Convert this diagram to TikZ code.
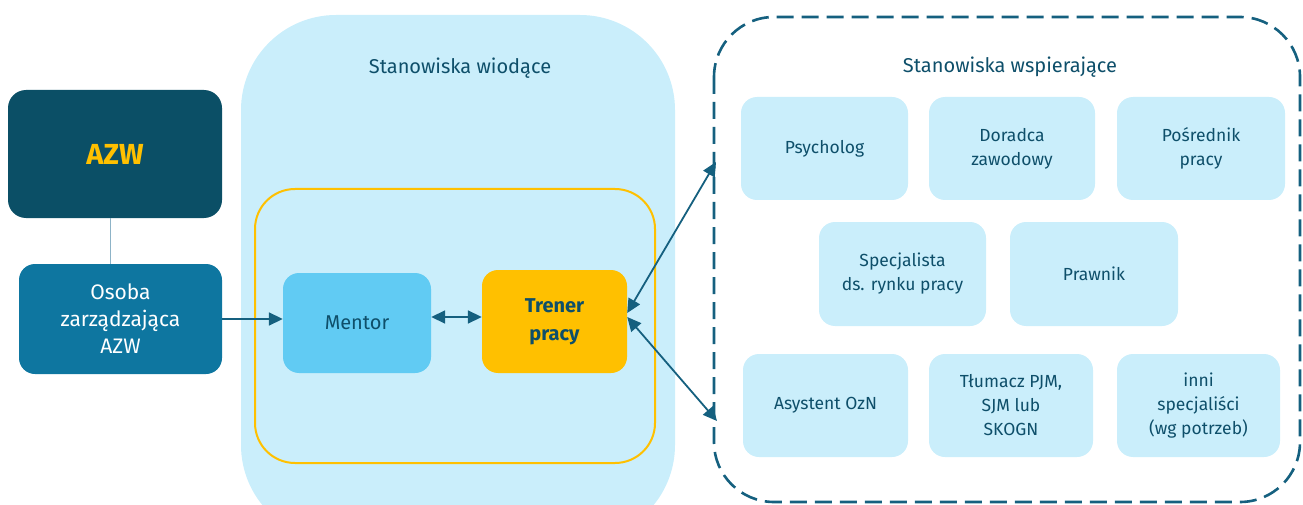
\documentclass[tikz,border=0pt]{standalone}
\usepackage{fontspec}
\setmainfont{Fira Sans}
\usetikzlibrary{arrows.meta}
\definecolor{ink}{HTML}{0E4F6A}
\definecolor{azwbg}{HTML}{0B4F66}
\definecolor{managerbg}{HTML}{0E76A0}
\definecolor{panelbg}{HTML}{CAEEFB}
\definecolor{mentorbg}{HTML}{61CBF3}
\definecolor{gold}{HTML}{FFC000}
\definecolor{arrowc}{HTML}{15607F}
\definecolor{linkc}{HTML}{8DB3C7}
\begin{document}
\begin{tikzpicture}[x=1pt,y=-1pt,
  box/.style={rounded corners=16pt, inner sep=0pt, align=center, text=ink},
  supbox/.style={box, fill=panelbg, font=\fontsize{17.5}{24}\selectfont},
  title/.style={text=ink, font=\fontsize{20}{24}\selectfont},
  conn/.style={draw=arrowc, line width=1.8pt},
  tip/.style={-{Triangle[length=14pt,width=13pt]}},
  tips/.style={{Triangle[length=14pt,width=13pt]}-{Triangle[length=14pt,width=13pt]}}]
\useasboundingbox (0,0) rectangle (1303,505);

% lead positions panel, its lower edge runs off the page
\begin{scope}
  \clip (0,0) rectangle (1303,505);
  \fill[panelbg, rounded corners=95pt] (241,15) rectangle (675,540);
\end{scope}
\node[title] (leadtitle) at (460,68) {Stanowiska wiodące};
\draw[gold, line width=2pt, rounded corners=40pt] (255,189) rectangle (655,463);

% supporting positions frame
\draw[arrowc, line width=2.6pt, dash pattern=on 17pt off 8pt, rounded corners=60pt]
  (714,17) rectangle (1300,502);
\node[title] (suptitle) at (1010,67) {Stanowiska wspierające};

% AZW and its manager
\node[box, fill=azwbg, rounded corners=18pt, minimum width=214pt, minimum height=128pt,
  text=gold, font=\fontsize{29}{33}\selectfont\bfseries] (azw) at (115,154) {AZW};
\node[box, fill=managerbg, minimum width=203pt, minimum height=110pt, text=white,
  font=\fontsize{21}{27}\selectfont] (manager) at (120.5,319) {Osoba\\zarządzająca\\AZW};
\draw[linkc, line width=1pt] (azw.south -| 110,0) -- (manager.north -| 110,0);

% lead positions
\node[box, fill=mentorbg, minimum width=148pt, minimum height=100pt,
  font=\fontsize{20}{24}\selectfont] (mentor) at (357,323) {Mentor};
\node[box, fill=gold, minimum width=145pt, minimum height=103pt,
  font=\fontsize{20}{28}\selectfont\bfseries] (trainer) at (554.5,321.5) {Trener\\pracy};

% supporting positions
\node[supbox, minimum width=167pt, minimum height=103pt] (psych) at (824.5,148.5) {Psycholog};
\node[supbox, minimum width=166pt, minimum height=103pt] (advisor) at (1012,148.5) {Doradca\\zawodowy};
\node[supbox, minimum width=168pt, minimum height=103pt] (broker) at (1201,148.5) {Pośrednik\\pracy};
\node[supbox, minimum width=167pt, minimum height=104pt] (market) at (902.5,274) {Specjalista\\ds. rynku pracy};
\node[supbox, minimum width=168pt, minimum height=104pt] (lawyer) at (1094,274) {Prawnik};
\node[supbox, minimum width=165pt, minimum height=103pt] (assist) at (825.5,405.5) {Asystent OzN};
\node[supbox, minimum width=164pt, minimum height=103pt] (interp) at (1011,405.5) {Tłumacz PJM,\\SJM lub\\SKOGN};
\node[supbox, minimum width=163pt, minimum height=103pt] (others) at (1198.5,405.5) {inni\\specjaliści\\(wg potrzeb)};

% connectors
\coordinate (supA) at (716,162);
\coordinate (supB) at (717,421);
\draw[conn, tip] (manager.east) -- (mentor.west |- manager.east);
\draw[conn, tips] (mentor.east |- 0,317) -- (trainer.west |- 0,317);
\draw[conn, tips] (trainer.east |- 0,313) -- (supA);
\draw[conn, tips] (trainer.east |- 0,317) -- (supB);
\end{tikzpicture}
\end{document}
